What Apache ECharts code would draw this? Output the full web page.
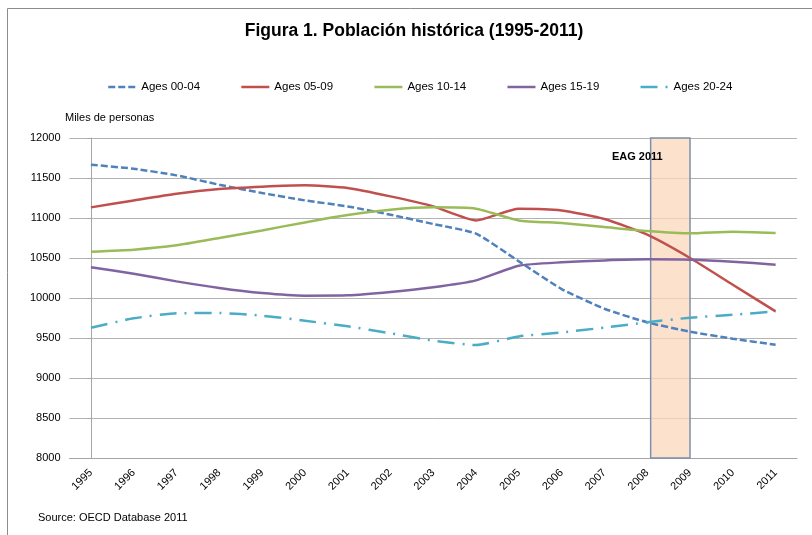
<!DOCTYPE html>
<html>
<head>
<meta charset="utf-8">
<script src="https://cdn.jsdelivr.net/npm/echarts@6/dist/echarts.min.js"></script>
<style>
html,body{margin:0;padding:0;background:#fff;}
#c{width:812px;height:535px;}
</style>
</head>
<body>
<div id="c"></div>
<script>
var years = ['1995','1996','1997','1998','1999','2000','2001','2002','2003','2004','2005','2006','2007','2008','2009','2010','2011'];
var ages0004 = [11666,11616,11533,11416,11312,11220,11145,11041,10925,10804,10458,10112,9866,9696,9579,9491,9416];
var ages0509 = [11133,11220,11304,11362,11391,11408,11375,11270,11145,10970,11116,11095,10987,10791,10500,10166,9833];
var ages1014 = [10579,10604,10658,10750,10845,10945,11037,11104,11133,11116,10970,10937,10887,10837,10808,10829,10812];
var ages1519 = [10383,10304,10208,10125,10062,10029,10033,10075,10133,10220,10404,10446,10470,10483,10479,10454,10416];
var ages2024 = [9629,9746,9809,9812,9779,9716,9646,9559,9466,9412,9520,9570,9630,9696,9754,9790,9833];
var seriesNames = ['Ages 00-04','Ages 05-09','Ages 10-14','Ages 15-19','Ages 20-24'];
var bandStart = 13.08, bandEnd = 14; // EAG 2011 band, in category-index units
var bandLabel = 'EAG 2011';

var FONT = 'Liberation Sans, Arial, sans-serif';
var chart = echarts.init(document.getElementById('c'), null, {renderer:'canvas'});
function mk(name, data, color, type, z){
  return {name:name, type:'line', data:data, symbol:'none', showSymbol:false, smooth:0.18, z:z||2,
    lineStyle:{color:color, width:2.5, type:type}, itemStyle:{color:color}};
}
var option = {
  animation:false,
  backgroundColor:'#fff',
  textStyle:{fontFamily:FONT},
  title:{text:'Figura 1. Población histórica (1995-2011)', left:409, textAlign:'center', top:17,
    textStyle:{fontFamily:FONT, fontSize:17.5, fontWeight:'bold', color:'#000'}},
  legend:{top:76, left:102, itemWidth:28, itemHeight:10, itemGap:40,
    itemStyle:{opacity:0}, lineStyle:{width:2.5},
    textStyle:{fontFamily:FONT, fontSize:11.5, color:'#000'}, data:seriesNames},
  grid:{left:69.5, right:15, top:138, bottom:77, containLabel:false},
  xAxis:[{type:'category', data:years, boundaryGap:true,
    axisLine:{lineStyle:{color:'#A6A6A6'}},
    axisTick:{interval:0, length:5, lineStyle:{color:'#A6A6A6'}},
    axisLabel:{interval:0, rotate:45, margin:13, color:'#000', fontSize:11, fontFamily:FONT}},
    {type:'value', min:-0.5, max:16.5, show:false}],
  yAxis:{type:'value', min:8000, max:12000, interval:500,
    axisLine:{show:true, lineStyle:{color:'#A6A6A6'}},
    axisTick:{show:true, length:4, lineStyle:{color:'#A6A6A6'}},
    splitLine:{lineStyle:{color:'#B3B3B3'}},
    axisLabel:{color:'#000', fontSize:11, margin:9, fontFamily:FONT, formatter:function(v){return String(v);}}},
  graphic:[
    {type:'rect', shape:{x:7.5,y:8.5,width:900,height:600}, style:{fill:null, stroke:'#8C8C8C', lineWidth:1}, silent:true, z:-1},
    {type:'text', left:65, top:112, style:{text:'Miles de personas', fontFamily:FONT, fontSize:11, fill:'#000'}},
    {type:'text', left:38, top:512, style:{text:'Source: OECD Database 2011', fontFamily:FONT, fontSize:11, fill:'#000'}}
  ],
  series:[
    mk(seriesNames[0], ages0004, '#4F81BD', [7,3]),
    mk(seriesNames[1], ages0509, '#C0504D', 'solid'),
    mk(seriesNames[2], ages1014, '#9BBB59', 'solid'),
    mk(seriesNames[3], ages1519, '#8064A2', 'solid'),
    mk(seriesNames[4], ages2024, '#4BACC6', [17,8,2,8]),
    {name:'band', type:'line', xAxisIndex:1, data:[], z:10, silent:true,
      markArea:{silent:true,
        itemStyle:{color:'rgba(251,215,187,0.75)', borderColor:'#7F8FA9', borderWidth:1.5},
        label:{show:true, position:'insideTop', offset:[-33,9], color:'#000', fontWeight:'bold', fontSize:11, fontFamily:FONT},
        data:[[{name:bandLabel, xAxis:bandStart},{xAxis:bandEnd}]]}}
  ]
};
chart.setOption(option);
</script>
</body>
</html>
